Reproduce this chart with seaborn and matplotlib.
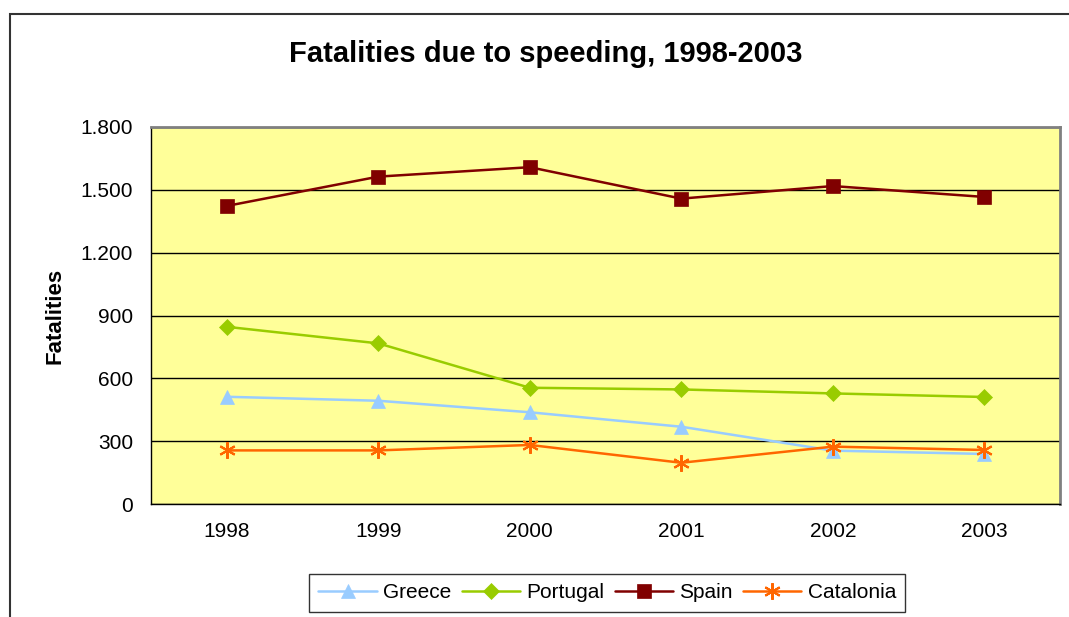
import matplotlib
matplotlib.use("Agg")
import matplotlib.pyplot as plt
from matplotlib.patches import Rectangle
from matplotlib.ticker import FixedLocator, FuncFormatter
import seaborn as sns
import pandas as pd

years = ["1998", "1999", "2000", "2001", "2002", "2003"]
greece = [512, 493, 438, 369, 255, 239]
portugal = [846, 767, 555, 547, 528, 511]
spain = [1423, 1563, 1608, 1458, 1518, 1466]
catalonia = [256, 256, 282, 197, 274, 258]

countries = ["Greece", "Portugal", "Spain", "Catalonia"]
series = [greece, portugal, spain, catalonia]

df = pd.DataFrame(
    [(c, y, v) for c, vals in zip(countries, series) for y, v in zip(years, vals)],
    columns=["country", "year", "fatalities"],
)

colors = {"Greece": "#99CCFF", "Portugal": "#99CC00", "Spain": "#800000", "Catalonia": "#FF6600"}
markers = {"Greece": "^", "Portugal": "D", "Spain": "s", "Catalonia": (6, 2, 0)}
msizes = {"Greece": 10, "Portugal": 8, "Spain": 10, "Catalonia": 12}

sns.set_style("white")
plt.rcParams["font.family"] = ["Liberation Sans", "DejaVu Sans"]
plt.rcParams["text.color"] = "black"
plt.rcParams["xtick.color"] = "black"
plt.rcParams["ytick.color"] = "black"
plt.rcParams["axes.labelcolor"] = "black"

fig = plt.figure(figsize=(10.69, 6.17), dpi=100)
ax = fig.add_axes([0.1413, 0.1831, 0.8503, 0.6111])
ax.set_facecolor("#FFFF99")

for c in countries:
    sns.lineplot(
        data=df[df.country == c], x="year", y="fatalities",
        color=colors[c], marker=markers[c], markersize=msizes[c],
        markeredgecolor=colors[c], markeredgewidth=1.5 if c == "Catalonia" else 0.5,
        linewidth=1.8, label=c, ax=ax, legend=False,
    )

ax.set_xlim(-0.5, 5.5)
ax.set_ylim(0, 1800)
ax.yaxis.set_major_locator(FixedLocator(range(0, 1801, 300)))
ax.yaxis.set_major_formatter(FuncFormatter(lambda v, p: f"{int(v):,}".replace(",", ".")))
ax.grid(axis="y", color="black", linewidth=1)
ax.set_axisbelow(True)

# category boundary tick marks on the x axis
ax.xaxis.set_minor_locator(FixedLocator([i - 0.5 for i in range(7)]))
ax.tick_params(axis="x", which="major", length=0, pad=13, labelsize=15)
ax.tick_params(axis="x", which="minor", length=6, width=1, color="black", direction="out")
ax.tick_params(axis="y", length=6, width=1, color="black", direction="out", labelsize=15, pad=7)

for side, sp in ax.spines.items():
    sp.set_color("#808080")
    sp.set_linewidth(2)
ax.spines["left"].set_color("black")
ax.spines["left"].set_linewidth(1)
ax.spines["bottom"].set_color("black")
ax.spines["bottom"].set_linewidth(1)

ax.set_xlabel("")
ax.set_ylabel("Fatalities", fontsize=16, fontweight="bold", labelpad=11)

fig.text(0.51, 0.912, "Fatalities due to speeding, 1998-2003",
         ha="center", va="center", fontsize=21, fontweight="bold")

handles, labels = ax.get_legend_handles_labels()
leg = fig.legend(handles, labels, loc="center", bbox_to_anchor=(0.568, 0.039),
                 ncol=4, frameon=True, fancybox=False, fontsize=15,
                 handlelength=2.8, handletextpad=0.3, columnspacing=0.5,
                 borderpad=0.45, borderaxespad=0)
leg.get_frame().set_edgecolor("black")
leg.get_frame().set_linewidth(1)

# outer chart border
fig.patches.append(Rectangle((10 / 1069, -0.2), 1.2, 1.2 - 14 / 617,
                             transform=fig.transFigure, fill=False,
                             edgecolor="#333333", linewidth=1.5))

fig.savefig("out.png", dpi=100)
